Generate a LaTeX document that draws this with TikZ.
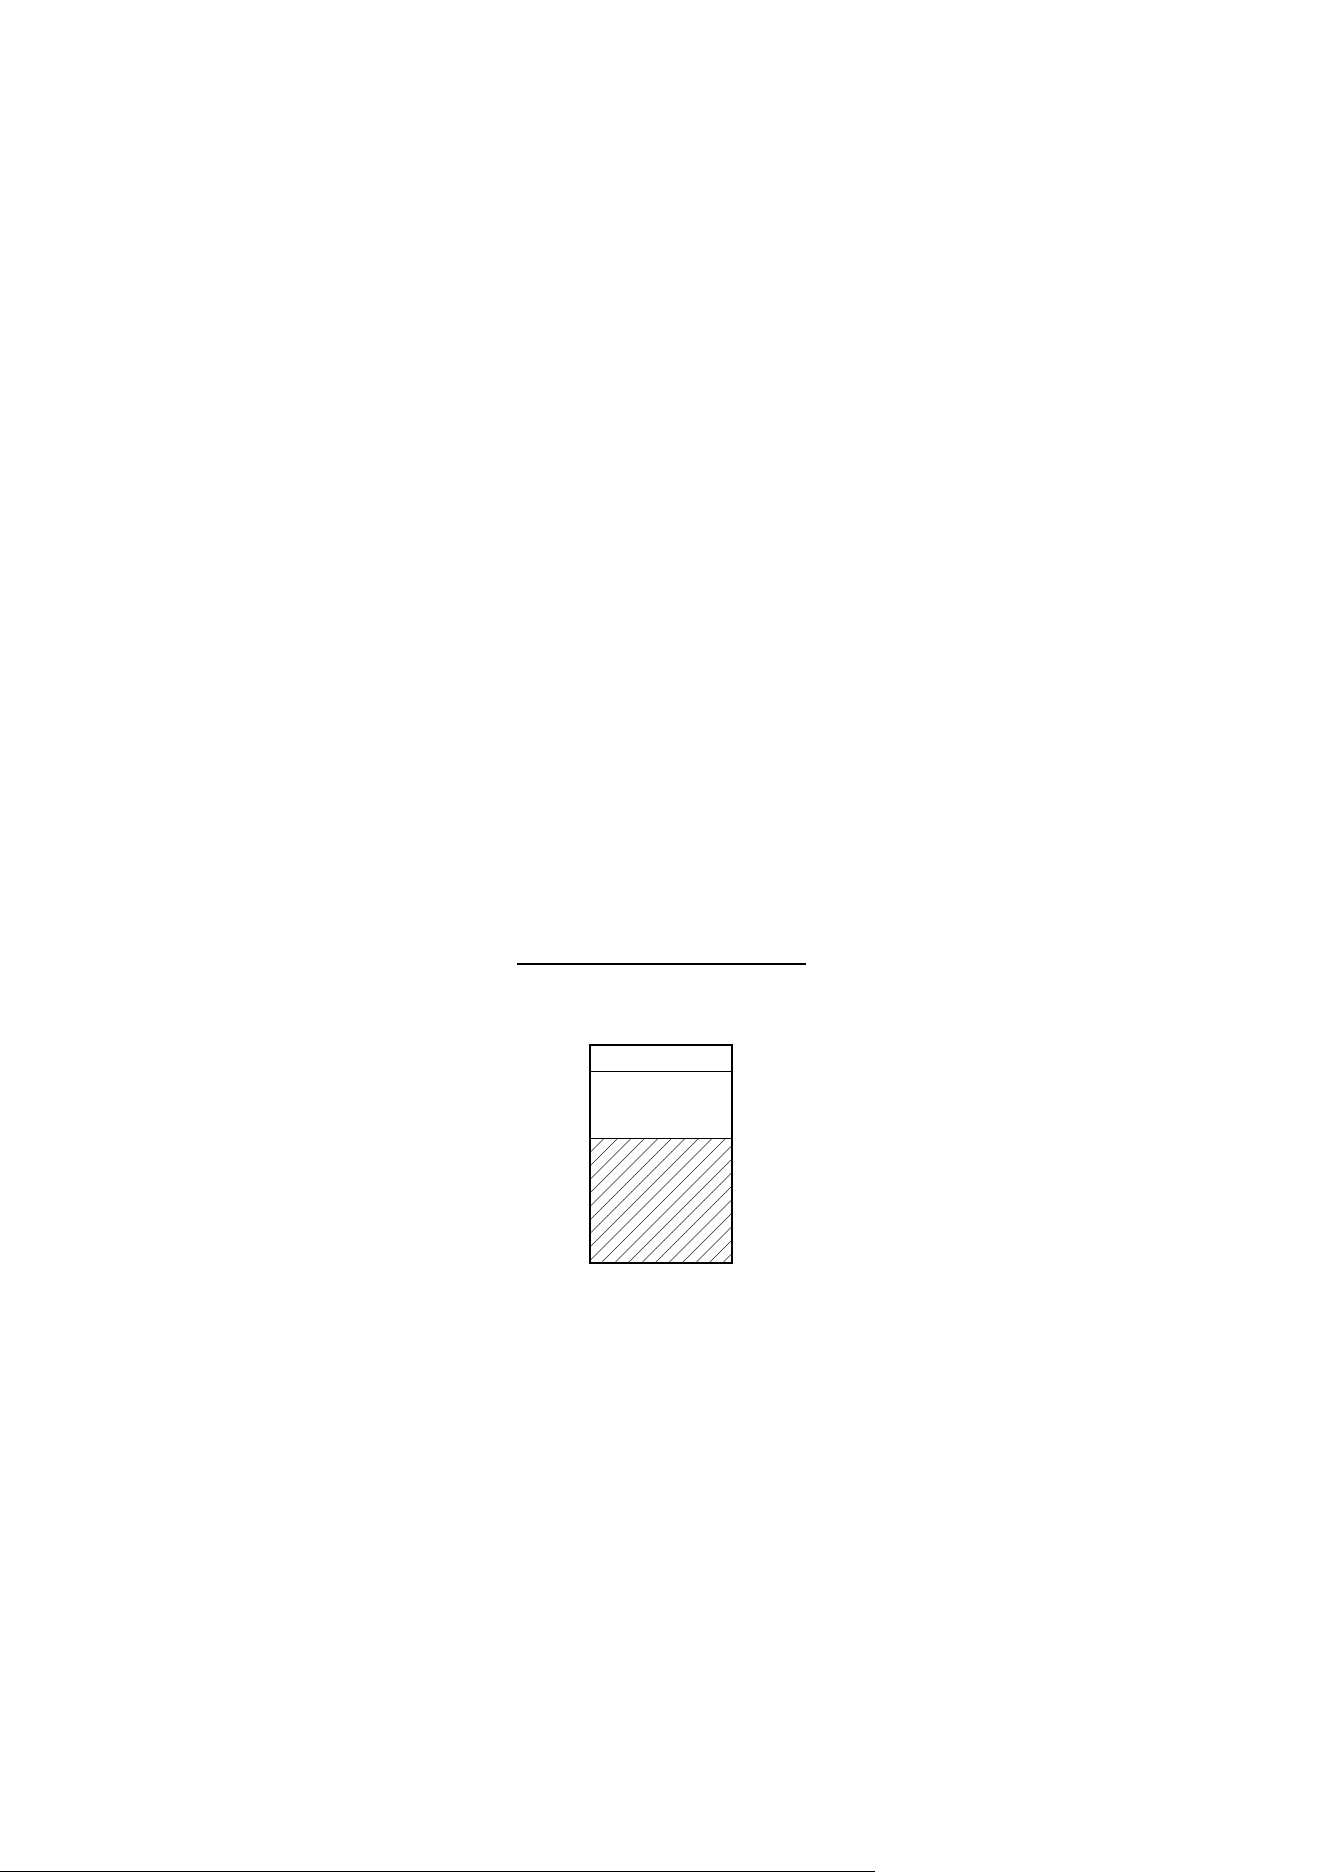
\documentclass[tikz,border=0pt]{standalone}
\usepackage{tikz}

\begin{document}
\begin{tikzpicture}[x=0.1586mm,y=0.1586mm,
		thick line/.style={line width=0.9pt},
		thin line/.style={line width=0.45pt},
		hatch line/.style={line width=0.3pt,black!85}]
		\useasboundingbox (0,0) rectangle (1324,1872);

		% rule above the vessel
		\coordinate (ruleL) at (517,908);
		\coordinate (ruleR) at (806,908);
		\draw[thick line] (ruleL) -- (ruleR);

		% vessel corners and levels
		\coordinate (bl) at (590,609);
		\coordinate (tr) at (732,827);
		\coordinate (lidL) at (590,800);
		\coordinate (lidR) at (732,800);
		\coordinate (fillL) at (590,733);
		\coordinate (fillR) at (732,733);

		% hatched contents
		\begin{scope}
			\clip (bl) rectangle (fillR);
			\foreach \k in {0,...,20}
				\draw[hatch line] (466+\k*13.5,609) -- ++(130,130);
		\end{scope}

		\draw[thin line] (lidL) -- (lidR);
		\draw[thin line] (fillL) -- (fillR);
		\draw[thick line] (bl) rectangle (tr);

		% page foot rule
		\coordinate (footL) at (0,1);
		\coordinate (footR) at (875,1);
		\draw[thin line] (footL) -- (footR);
\end{tikzpicture}
\end{document}
